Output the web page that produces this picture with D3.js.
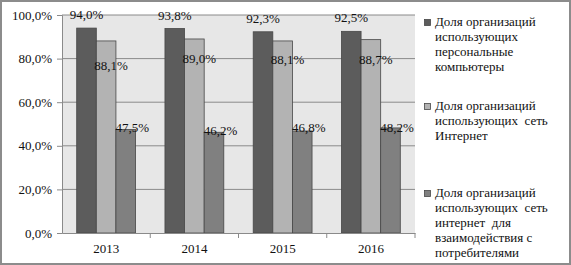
<!DOCTYPE html>
<html><head><meta charset="utf-8">
<script src="https://cdn.jsdelivr.net/npm/d3@7"></script>
<style>html,body{margin:0;padding:0;background:#fff;}svg{display:block;}
svg text{font-family:"Liberation Serif","Times New Roman",Tinos,"DejaVu Serif",serif;}</style>
</head><body>
<svg id="c" width="571" height="265"></svg>
<script>
const categories = ["2013", "2014", "2015", "2016"];
const seriesNames = [
  "Доля организаций использующих персональные компьютеры",
  "Доля организаций использующих сеть Интернет",
  "Доля организаций использующих сеть интернет для взаимодействия с потребителями"
];
const pcValues = [94.0, 93.8, 92.3, 92.5];
const internetValues = [88.1, 89.0, 88.1, 88.7];
const consumerValues = [47.5, 46.2, 46.8, 48.2];
const yTicks = [0, 20, 40, 60, 80, 100];
const legendLines = [
  ["Доля организаций", "использующих", "персональные", "компьютеры"],
  ["Доля организаций", "использующих  сеть", "Интернет"],
  ["Доля организаций", "использующих  сеть", "интернет  для", "взаимодействия с", "потребителями"]
];

const colors = ["#5c5c5c", "#b3b3b3", "#808080"];
const allValues = [pcValues, internetValues, consumerValues];
const fmt = v => v.toFixed(1).replace(".", ",") + "%";
const txt = "#111";

const svg = d3.select("#c");
svg.append("rect").attr("x", 1).attr("y", 1).attr("width", 569).attr("height", 263)
  .attr("fill", "#fff").attr("stroke", "#8c8c8c").attr("stroke-width", 2);

const L = 62, R = 415, T = 15, B = 233;
const y = d3.scaleLinear().domain([0, 100]).range([B, T]);
const x0 = d3.scaleBand().domain(categories).range([L, R]).padding(0);
const bw = x0.bandwidth() / 4.5;
const x1 = d3.scaleBand().domain([0, 1, 2]).range([0.75 * bw, 3.75 * bw]).padding(0);

svg.append("rect").attr("x", L).attr("y", T).attr("width", R - L).attr("height", B - T).attr("fill", "#e7e7e7");

svg.append("g").selectAll("line").data(yTicks.filter(t => t > 0)).join("line")
  .attr("x1", L).attr("x2", R).attr("y1", d => y(d)).attr("y2", d => y(d))
  .attr("stroke", "#8a8a8a").attr("stroke-width", 1);

const yAxis = svg.append("g").attr("transform", `translate(${L},0)`)
  .call(d3.axisLeft(y).tickValues(yTicks).tickSize(5).tickPadding(5).tickFormat(fmt));
yAxis.attr("font-family", null);
yAxis.select(".domain").attr("stroke", "#8a8a8a");
yAxis.selectAll(".tick line").attr("stroke", "#8a8a8a");
yAxis.selectAll("text").attr("font-size", 13).attr("fill", txt);

const groups = svg.append("g").selectAll("g").data(categories).join("g")
  .attr("transform", d => `translate(${x0(d)},0)`);
groups.selectAll("rect").data((d, i) => allValues.map((s, k) => ({k, v: s[i]}))).join("rect")
  .attr("x", d => x1(d.k)).attr("width", x1.bandwidth())
  .attr("y", d => y(d.v)).attr("height", d => B - y(d.v))
  .attr("fill", d => colors[d.k]).attr("stroke", "#474747").attr("stroke-width", 0.8);

const xAxis = svg.append("g").attr("transform", `translate(0,${B})`)
  .call(d3.axisBottom(x0).tickSize(0).tickPadding(11));
xAxis.attr("font-family", null);
xAxis.select(".domain").attr("stroke", "#8a8a8a");
xAxis.selectAll("text").attr("font-size", 13).attr("fill", txt);
svg.append("g").selectAll("line").data(categories.slice(1).concat(["end"])).join("line")
  .attr("x1", (d, i) => L + (i + 1) * x0.bandwidth()).attr("x2", (d, i) => L + (i + 1) * x0.bandwidth())
  .attr("y1", B).attr("y2", B + 5).attr("stroke", "#8a8a8a");

const labelDx = [0, 5, 6.5];
const labelDy = [[-9, -9, -9, -9], [29, 24, 23, 24], [3, 3, 1, 4]];
groups.each(function(c, i) {
  const g = d3.select(this);
  allValues.forEach((s, k) => {
    g.append("text")
      .attr("x", x1(k) + x1.bandwidth() / 2 + labelDx[k])
      .attr("y", y(s[i]) + labelDy[k][i])
      .attr("text-anchor", "middle")
      .attr("font-size", 13).attr("fill", txt)
      .text(fmt(s[i]));
  });
});

const legTop = [26, 110, 197];
const leg = svg.append("g");
legendLines.forEach((lines, k) => {
  leg.append("rect").attr("x", 424.5).attr("y", legTop[k] - 6.5).attr("width", 6).attr("height", 6)
    .attr("fill", colors[k]).attr("stroke", "#474747").attr("stroke-width", 0.8);
  const t = leg.append("text").attr("font-size", 13).attr("fill", txt)
    .style("white-space", "pre");
  lines.forEach((ln, j) => {
    t.append("tspan").attr("x", 435).attr("y", legTop[k] + j * 15).text(ln);
  });
});
</script>
</body></html>
